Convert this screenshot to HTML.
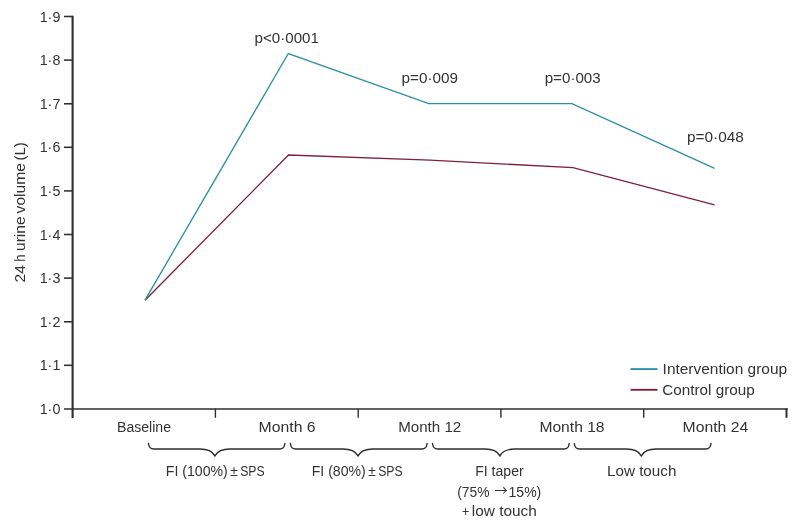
<!DOCTYPE html>
<html lang="en"><head><meta charset="utf-8"><title>24 h urine volume</title>
<style>
html,body{margin:0;padding:0;background:#fff;}
body{width:800px;height:526px;overflow:hidden;}
svg{display:block;}
text{font-family:"Liberation Sans",Arial,Helvetica,sans-serif;font-size:14px;fill:#333333;}
</style></head><body>
<svg width="800" height="526" viewBox="0 0 800 526">
<rect width="800" height="526" fill="#ffffff"/>

<g stroke="#2e2e2e" stroke-width="1.8" fill="none" stroke-linecap="butt">
<path d="M72.6 15.8V417.9" stroke-width="2.1"/>
<path d="M64.0 408.9H787.5" stroke-width="1.55"/>
<path d="M64.0 365.3H72.6" stroke-width="1.55"/>
<path d="M64.0 321.8H72.6" stroke-width="1.55"/>
<path d="M64.0 278.1H72.6" stroke-width="1.55"/>
<path d="M64.0 234.5H72.6" stroke-width="1.55"/>
<path d="M64.0 190.9H72.6" stroke-width="1.55"/>
<path d="M64.0 147.3H72.6" stroke-width="1.55"/>
<path d="M64.0 103.8H72.6" stroke-width="1.55"/>
<path d="M64.0 60.1H72.6" stroke-width="1.55"/>
<path d="M64.0 16.5H72.6" stroke-width="1.55"/>
<path d="M215.4 408.9V417.8" stroke-width="1.4"/>
<path d="M358.2 408.9V417.8" stroke-width="1.4"/>
<path d="M500.9 408.9V417.8" stroke-width="1.4"/>
<path d="M643.7 408.9V417.8" stroke-width="1.4"/>
<path d="M786.5 408.2V417.8" stroke-width="2.0"/>
</g>
<g transform="translate(25.0 300) rotate(-90)">
<text x="17.60" y="0.0" textLength="17.38" lengthAdjust="spacingAndGlyphs">24</text>
<text x="38.25" y="0.0" textLength="7.34" lengthAdjust="spacingAndGlyphs">h</text>
<text x="49.00" y="0.0" textLength="34.56" lengthAdjust="spacingAndGlyphs">urine</text>
<text x="86.60" y="0.0" textLength="50.47" lengthAdjust="spacingAndGlyphs">volume</text>
<text x="139.40" y="0.0" textLength="18.37" lengthAdjust="spacingAndGlyphs">(L)</text>
</g>
<polyline fill="none" stroke="#7e2239" stroke-width="1.35" stroke-linejoin="miter" points="145.0,300.2 288.5,155.0 430.0,160.2 573.0,167.6 714.6,204.8"/>
<polyline fill="none" stroke="#2c8fa7" stroke-width="1.35" stroke-linejoin="miter" points="145.0,300.2 288.3,53.5 428.8,103.6 572.0,103.6 714.6,168.4"/>
<path d="M630.5 369.1H657.5" stroke="#2c8fa7" stroke-width="1.9"/>
<path d="M630.5 389.8H657.5" stroke="#7e2239" stroke-width="1.9"/>
<path fill="none" stroke="#2e2e2e" stroke-width="1.4" stroke-linecap="round" d="M148.5 443.5 C148.8 446.9 150.5 449.0 153.7 449.0 L199.9 449.0 C207.4 449.0 212.4 451.2 214.9 455.8 C217.4 451.2 222.4 449.0 229.9 449.0 L279.7 449.0 C282.9 449.0 284.6 446.9 284.9 443.5"/>
<path fill="none" stroke="#2e2e2e" stroke-width="1.4" stroke-linecap="round" d="M290.4 443.5 C290.7 446.9 292.4 449.0 295.6 449.0 L343.0 449.0 C350.5 449.0 355.5 451.2 358.0 455.8 C360.5 451.2 365.5 449.0 373.0 449.0 L421.9 449.0 C425.1 449.0 426.8 446.9 427.1 443.5"/>
<path fill="none" stroke="#2e2e2e" stroke-width="1.4" stroke-linecap="round" d="M432.5 443.5 C432.8 446.9 434.5 449.0 437.7 449.0 L485.0 449.0 C492.5 449.0 497.5 451.2 500.0 455.8 C502.5 451.2 507.5 449.0 515.0 449.0 L564.0 449.0 C567.2 449.0 568.9 446.9 569.2 443.5"/>
<path fill="none" stroke="#2e2e2e" stroke-width="1.4" stroke-linecap="round" d="M574.3 443.5 C574.6 446.9 576.3 449.0 579.5 449.0 L626.3 449.0 C633.8 449.0 638.8 451.2 641.3 455.8 C643.8 451.2 648.8 449.0 656.3 449.0 L705.8 449.0 C709.0 449.0 710.7 446.9 711.0 443.5"/>
<text x="254.55" y="43.2" textLength="64.39" lengthAdjust="spacingAndGlyphs">p&lt;0·0001</text>
<text x="401.55" y="83.3" textLength="56.49" lengthAdjust="spacingAndGlyphs">p=0·009</text>
<text x="544.70" y="83.3" textLength="56.04" lengthAdjust="spacingAndGlyphs">p=0·003</text>
<text x="687.00" y="142.4" textLength="56.75" lengthAdjust="spacingAndGlyphs">p=0·048</text>
<text x="662.60" y="373.6" textLength="124.48" lengthAdjust="spacingAndGlyphs">Intervention group</text>
<text x="662.25" y="395.0" textLength="92.42" lengthAdjust="spacingAndGlyphs">Control group</text>
<text x="117.00" y="432.2" textLength="54.04" lengthAdjust="spacingAndGlyphs">Baseline</text>
<text x="258.60" y="432.2" textLength="56.95" lengthAdjust="spacingAndGlyphs">Month 6</text>
<text x="398.15" y="432.2" textLength="63.10" lengthAdjust="spacingAndGlyphs">Month 12</text>
<text x="539.45" y="432.2" textLength="65.09" lengthAdjust="spacingAndGlyphs">Month 18</text>
<text x="682.60" y="432.2" textLength="65.54" lengthAdjust="spacingAndGlyphs">Month 24</text>
<text x="165.85" y="475.6" textLength="61.95" lengthAdjust="spacingAndGlyphs">FI (100%)</text>
<text x="230.25" y="475.6" font-size="12" textLength="7.54" lengthAdjust="spacingAndGlyphs">±</text>
<text x="240.15" y="475.6" textLength="24.40" lengthAdjust="spacingAndGlyphs">SPS</text>
<text x="311.70" y="475.6" textLength="54.10" lengthAdjust="spacingAndGlyphs">FI (80%)</text>
<text x="368.25" y="475.6" font-size="12" textLength="7.54" lengthAdjust="spacingAndGlyphs">±</text>
<text x="378.15" y="475.6" textLength="24.40" lengthAdjust="spacingAndGlyphs">SPS</text>
<text x="475.20" y="475.6" textLength="48.53" lengthAdjust="spacingAndGlyphs">FI taper</text>
<text x="457.25" y="497.2" textLength="32.24" lengthAdjust="spacingAndGlyphs">(75%</text>
<text x="494.55" y="494.9" font-size="10.5" textLength="13.16" lengthAdjust="spacingAndGlyphs" style="font-family:'Noto Sans CJK JP','Liberation Sans',sans-serif">→</text>
<text x="508.55" y="497.2" textLength="32.74" lengthAdjust="spacingAndGlyphs">15%)</text>
<text x="462.00" y="516.4" font-size="12" textLength="7.27" lengthAdjust="spacingAndGlyphs">+</text>
<text x="471.85" y="516.4" textLength="65.01" lengthAdjust="spacingAndGlyphs">low touch</text>
<text x="607.00" y="475.6" textLength="69.36" lengthAdjust="spacingAndGlyphs">Low touch</text>
<text x="39.65" y="413.9" textLength="20.70" lengthAdjust="spacingAndGlyphs">1·0</text>
<text x="39.65" y="370.3" textLength="20.70" lengthAdjust="spacingAndGlyphs">1·1</text>
<text x="39.65" y="326.8" textLength="20.70" lengthAdjust="spacingAndGlyphs">1·2</text>
<text x="39.65" y="283.1" textLength="20.70" lengthAdjust="spacingAndGlyphs">1·3</text>
<text x="39.65" y="239.5" textLength="20.70" lengthAdjust="spacingAndGlyphs">1·4</text>
<text x="39.65" y="195.9" textLength="20.70" lengthAdjust="spacingAndGlyphs">1·5</text>
<text x="39.65" y="152.3" textLength="20.70" lengthAdjust="spacingAndGlyphs">1·6</text>
<text x="39.65" y="108.8" textLength="20.70" lengthAdjust="spacingAndGlyphs">1·7</text>
<text x="39.65" y="65.1" textLength="20.70" lengthAdjust="spacingAndGlyphs">1·8</text>
<text x="39.65" y="21.5" textLength="20.70" lengthAdjust="spacingAndGlyphs">1·9</text>
</svg>
</body></html>
